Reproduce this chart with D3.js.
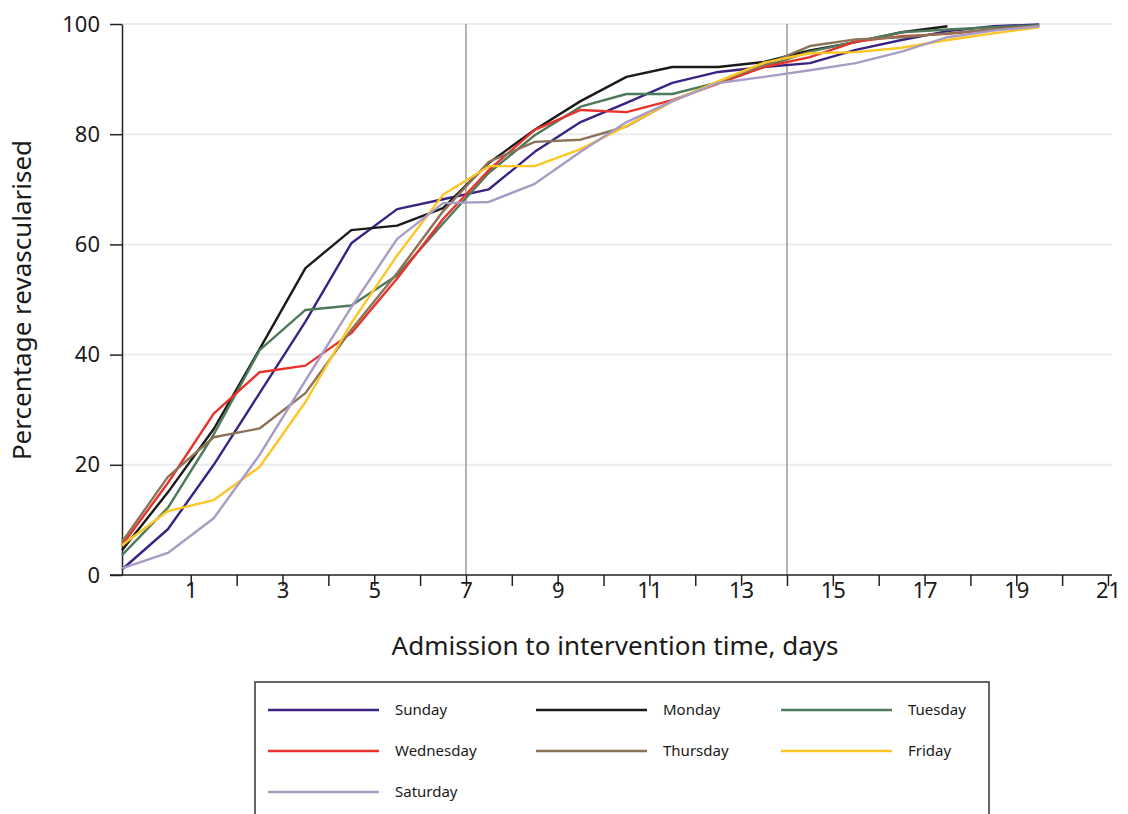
<!DOCTYPE html>
<head>
  <meta charset="utf-8">
  <title>Admission to intervention time by weekday</title>
  <script src="https://cdn.jsdelivr.net/npm/d3@7"></script>
  <style>
    body { margin: 0; background: #fff; }
    text { font-family: "Noto Sans", "Open Sans", sans-serif; fill: #1a1a1a; }
  </style>
</head>
<body>
<div id="chart"></div>
<script>
// x positions of the points (days)
const days = [-0.5, 0.5, 1.5, 2.5, 3.5, 4.5, 5.5, 6.5, 7.5, 8.5, 9.5,
  10.5, 11.5, 12.5, 13.5, 14.5, 15.5, 16.5, 17.5, 18.5, 19.5];

const sunday    = [1, 8.3, 20, 33, 46, 60.2, 66.4, 68.2, 70, 76.8, 82.2, 85.7, 89.3, 91.3, 92.2, 92.9, 95.3, 97.1, 98.7, 99.6, 99.9];
const monday    = [4.5, 15, 26.5, 41, 55.7, 62.6, 63.4, 66.6, 74.8, 80.8, 86, 90.4, 92.2, 92.2, 93.1, 95.2, 96.7, 98.5, 99.6];
const tuesday   = [3.6, 12.2, 25.5, 40.8, 48.1, 48.9, 54.4, 63.8, 73, 79.8, 85, 87.3, 87.3, 89.4, 92.2, 95, 96.8, 98.5, 99, 99.4, 99.8];
const wednesday = [5.4, 16.7, 29.3, 36.8, 38, 43.9, 53.8, 64.6, 73.5, 80.8, 84.4, 84, 86.2, 89.2, 92.2, 94, 96.8, 97.8, 98.2, 99, 99.6];
const thursday  = [6, 17.8, 25, 26.6, 33, 44.5, 54.8, 66, 75, 78.6, 79, 81.4, 86, 89.5, 92.5, 96, 97.2, 97.6, 98.3, 99, 99.6];
const friday    = [5.4, 11.6, 13.6, 19.6, 31.4, 45.7, 58, 69, 74.2, 74.2, 77.3, 81.5, 86, 89.6, 93, 94.7, 94.9, 95.7, 97.1, 98.3, 99.4];
const saturday  = [1.2, 4, 10.3, 21.8, 35.3, 48.6, 61, 67.5, 67.7, 71, 76.8, 82.2, 86, 89.3, 90.4, 91.6, 92.9, 95, 97.6, 98.8, 99.6];

const dayNames = ["Sunday", "Monday", "Tuesday", "Wednesday", "Thursday", "Friday", "Saturday"];
const dayColors = ["#3b2384", "#1a1a1a", "#4e7a59", "#e8322c", "#8c7256", "#fcc624", "#a99cc4"];
const seriesValues = [sunday, monday, tuesday, wednesday, thursday, friday, saturday];

const yTicks = [0, 20, 40, 60, 80, 100];
const xTicks = [1, 2, 3, 4, 5, 6, 7, 8, 9, 10, 11, 12, 13, 14, 15, 16, 17, 18, 19, 20, 21];
const xLabels = [1, 3, 5, 7, 9, 11, 13, 15, 17, 19, 21];
const refDays = [7, 14];

const width = 1128, height = 814;
const svg = d3.select("#chart").append("svg")
  .attr("width", width)
  .attr("height", height);

const x = d3.scaleLinear().domain([-0.5, 21]).range([122, 1108]);
const y = d3.scaleLinear().domain([0, 100]).range([575, 24]);

// horizontal gridlines
svg.append("g")
  .selectAll("line")
  .data(yTicks.filter(d => d > 0))
  .enter().append("line")
  .attr("x1", x(-0.5)).attr("x2", 1112)
  .attr("y1", d => y(d)).attr("y2", d => y(d))
  .attr("stroke", "#ebebf0")
  .attr("stroke-width", 2);

// vertical reference lines at 7 and 14 days
svg.append("g")
  .selectAll("line")
  .data(refDays)
  .enter().append("line")
  .attr("x1", d => x(d)).attr("x2", d => x(d))
  .attr("y1", y(100)).attr("y2", y(0))
  .attr("stroke", "#9a9a9a")
  .attr("stroke-width", 1.5);

// y axis
const yAxis = svg.append("g")
  .attr("transform", `translate(${x(-0.5)},0)`)
  .call(d3.axisLeft(y).tickValues(yTicks).tickSize(12).tickSizeOuter(0).tickPadding(10));
yAxis.select(".domain").attr("stroke", "#222").attr("stroke-width", 1.5);
yAxis.selectAll(".tick line").attr("stroke", "#222").attr("stroke-width", 1.5);
yAxis.selectAll(".tick text")
  .style("font-size", "22px")
  .style("font-family", "'Noto Sans', sans-serif")
  .attr("fill", "#1a1a1a");

// x axis
const xAxis = svg.append("g")
  .attr("transform", `translate(0,${y(0)})`)
  .call(d3.axisBottom(x).tickValues(xTicks).tickSize(11).tickSizeOuter(0)
    .tickFormat(d => xLabels.includes(d) ? d : ""));
xAxis.select(".domain")
  .attr("d", `M110,0H1112`)
  .attr("stroke", "#222").attr("stroke-width", 1.5);
xAxis.selectAll(".tick line").attr("stroke", "#222").attr("stroke-width", 1.5);
xAxis.selectAll(".tick text")
  .attr("y", 7)
  .attr("dy", "0.71em")
  .style("font-size", "22px")
  .style("font-family", "'Noto Sans', sans-serif")
  .attr("fill", "#1a1a1a");

// axis titles
svg.append("text")
  .attr("x", 615).attr("y", 655)
  .attr("text-anchor", "middle")
  .style("font-size", "26px")
  .text("Admission to intervention time, days");

svg.append("text")
  .attr("transform", "translate(31,300) rotate(-90)")
  .attr("text-anchor", "middle")
  .style("font-size", "26px")
  .text("Percentage revascularised");

// lines
const line = d3.line()
  .x((d, i) => x(days[i]))
  .y(d => y(d));

svg.append("g")
  .selectAll("path")
  .data(seriesValues)
  .enter().append("path")
  .attr("d", d => line(d))
  .attr("fill", "none")
  .attr("stroke", (d, i) => dayColors[i])
  .attr("stroke-width", 2.4)
  .attr("stroke-linejoin", "round");

// legend
const legend = svg.append("g");
legend.append("rect")
  .attr("x", 255).attr("y", 682)
  .attr("width", 734).attr("height", 160)
  .attr("fill", "none")
  .attr("stroke", "#333")
  .attr("stroke-width", 1.5);

const colX = [268, 536, 781];
const rowY = [710, 751, 792];
const items = legend.selectAll("g.item")
  .data(dayNames)
  .enter().append("g")
  .attr("class", "item")
  .attr("transform", (d, i) => `translate(${colX[i % 3]},${rowY[Math.floor(i / 3)]})`);
items.append("line")
  .attr("x1", 0).attr("x2", 111)
  .attr("y1", 0).attr("y2", 0)
  .attr("stroke", (d, i) => dayColors[i])
  .attr("stroke-width", 2.4);
items.append("text")
  .attr("x", 127).attr("y", 0)
  .attr("dy", "0.35em")
  .style("font-size", "15px")
  .text(d => d);
</script>
</body>
